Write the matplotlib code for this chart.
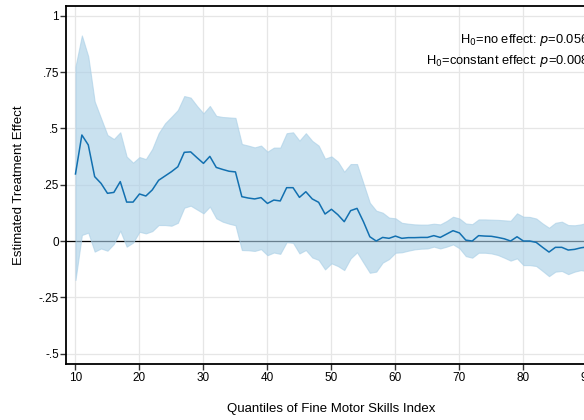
import numpy as np
import matplotlib.pyplot as plt

plt.rcParams['font.family'] = ['Liberation Sans', 'DejaVu Sans']

# quantiles and estimates
quantiles = list(range(10, 91))
effect = [0.298, 0.471, 0.427, 0.286, 0.256, 0.212, 0.216, 0.264, 0.173, 0.173,
          0.209, 0.200, 0.227, 0.270, 0.289, 0.308, 0.330, 0.394, 0.396, 0.370,
          0.345, 0.376, 0.327, 0.318, 0.310, 0.307, 0.197, 0.191, 0.187, 0.193,
          0.167, 0.182, 0.178, 0.237, 0.237, 0.194, 0.219, 0.187, 0.172, 0.120,
          0.141, 0.117, 0.086, 0.135, 0.145, 0.086, 0.019, 0.000, 0.016, 0.012,
          0.022, 0.012, 0.015, 0.015, 0.016, 0.016, 0.024, 0.016, 0.031, 0.046,
          0.036, 0.004, 0.000, 0.024, 0.022, 0.021, 0.016, 0.010, 0.000, 0.019,
          0.000, 0.000, -0.006, -0.028, -0.049, -0.028, -0.028, -0.040, -0.037, -0.030,
          -0.026]
ci_upper = [0.775, 0.913, 0.820, 0.620, 0.545, 0.471, 0.453, 0.483, 0.375, 0.348,
            0.373, 0.364, 0.409, 0.479, 0.523, 0.552, 0.582, 0.644, 0.637, 0.600,
            0.567, 0.600, 0.556, 0.551, 0.549, 0.547, 0.431, 0.424, 0.416, 0.424,
            0.397, 0.415, 0.415, 0.479, 0.483, 0.446, 0.479, 0.445, 0.424, 0.366,
            0.376, 0.353, 0.308, 0.342, 0.342, 0.256, 0.170, 0.135, 0.126, 0.104,
            0.101, 0.081, 0.077, 0.074, 0.073, 0.073, 0.077, 0.074, 0.089, 0.108,
            0.100, 0.078, 0.075, 0.096, 0.096, 0.095, 0.094, 0.092, 0.090, 0.123,
            0.108, 0.107, 0.100, 0.078, 0.059, 0.081, 0.086, 0.071, 0.070, 0.074,
            0.082]
ci_lower = [-0.173, 0.027, 0.037, -0.047, -0.033, -0.043, -0.013, 0.046, -0.025, -0.007,
            0.041, 0.034, 0.044, 0.071, 0.071, 0.068, 0.081, 0.148, 0.157, 0.140,
            0.123, 0.153, 0.101, 0.086, 0.077, 0.070, -0.040, -0.041, -0.044, -0.036,
            -0.063, -0.051, -0.057, -0.005, -0.008, -0.055, -0.040, -0.073, -0.084, -0.126,
            -0.099, -0.111, -0.129, -0.077, -0.050, -0.096, -0.141, -0.136, -0.096, -0.080,
            -0.052, -0.050, -0.043, -0.037, -0.034, -0.033, -0.025, -0.033, -0.025, -0.015,
            -0.032, -0.067, -0.074, -0.052, -0.052, -0.055, -0.062, -0.074, -0.087, -0.077,
            -0.107, -0.107, -0.111, -0.133, -0.156, -0.136, -0.133, -0.147, -0.136, -0.129,
            -0.135]

yticks = [1, 0.75, 0.5, 0.25, 0, -0.25, -0.5]
ytick_labels = ['1', '.75', '.5', '.25', '0', '-.25', '-.5']
xticks = [10, 20, 30, 40, 50, 60, 70, 80, 90]

fig = plt.figure(figsize=(5.84, 4.2), dpi=100)
# axes run past the right edge, as in the cropped original
ax = fig.add_axes([66 / 584, 56.5 / 420, 531 / 584, 357.5 / 420])

ax.axhline(0, color='black', lw=0.9, zorder=1)
ax.fill_between(quantiles, ci_lower, ci_upper, color='#a9cfe6', alpha=0.62,
                lw=0.8, edgecolor='#a9cfe6', zorder=2)
ax.plot(quantiles, effect, color='#1270b0', lw=1.1, zorder=3)

ax.set_xlim(8.52, 91.5)
ax.set_ylim(-0.544, 1.044)
ax.set_xticks(xticks)
ax.set_yticks(yticks)
ax.set_yticklabels(ytick_labels)
ax.grid(True, color='#e6e6e6', lw=0.9, zorder=0)
ax.set_axisbelow(True)

for s in ['left', 'bottom', 'top']:
    ax.spines[s].set_linewidth(1.3)
ax.spines['right'].set_visible(False)
ax.tick_params(axis='both', direction='out', length=4, width=1, labelsize=8.5,
               color='#333333', pad=2)
ax.tick_params(axis='y', pad=1)

ax.set_xlabel('Quantiles of Fine Motor Skills Index', fontsize=9.5, labelpad=14)
ax.set_ylabel('Estimated Treatment Effect', fontsize=9.5, labelpad=10)

ax.text(90.3, 0.893, r'H$_0$=no effect: $p$=0.056', ha='right', va='center',
        fontsize=9.3, math_fontfamily='dejavusans')
ax.text(90.3, 0.800, r'H$_0$=constant effect: $p$=0.008', ha='right', va='center',
        fontsize=9.3, math_fontfamily='dejavusans')

fig.savefig('out.png', dpi=100)
